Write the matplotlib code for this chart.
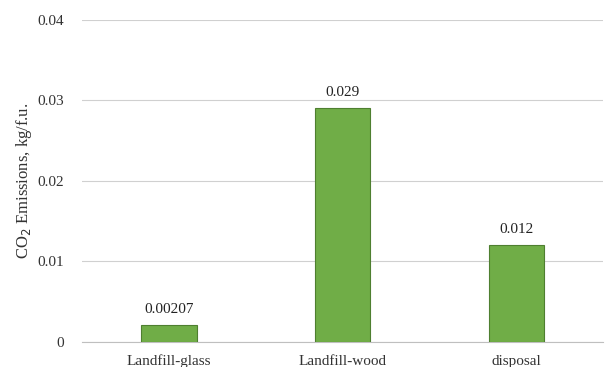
import matplotlib.pyplot as plt

plt.rcParams['font.family'] = ['Liberation Serif', 'DejaVu Serif']

# CO2 emissions per functional unit for each end-of-life route
categories = ["Landfill-glass", "Landfill-wood", "disposal"]
emissions = [0.00207, 0.029, 0.012]
value_labels = ["0.00207", "0.029", "0.012"]
y_ticks = [0, 0.01, 0.02, 0.03, 0.04]
y_tick_labels = ["0", "0.01", "0.02", "0.03", "0.04"]

fig = plt.figure(figsize=(6.08, 3.67), dpi=100)
ax = fig.add_axes([0.135, 0.068, 0.857, 0.878])

x = range(len(categories))
bars = ax.bar(x, emissions, width=0.32, color="#70AD47", edgecolor="#4E7F30", linewidth=0.8, zorder=3)

for bar, txt in zip(bars, value_labels):
    ax.text(bar.get_x() + bar.get_width() / 2, bar.get_height() + 0.0012, txt,
            ha="center", va="bottom", fontsize=11, color="#222222")

ax.set_xlim(-0.5, len(categories) - 0.5)
ax.set_ylim(0, 0.04)
ax.set_yticks(y_ticks)
ax.set_yticklabels(y_tick_labels)
ax.set_xticks(list(x))
ax.set_xticklabels(categories)
ax.tick_params(axis="both", length=0, labelsize=11, colors="#333333")
ax.tick_params(axis="y", pad=13)
ax.tick_params(axis="x", pad=9)

ax.grid(axis="y", color="#D0D0D0", linewidth=0.8, zorder=0)
for side in ["top", "right", "left"]:
    ax.spines[side].set_visible(False)
ax.spines["bottom"].set_color("#BFBFBF")

ax.set_ylabel("CO$_2$ Emissions, kg/f.u.", fontsize=12, color="#333333")
ax.yaxis.set_label_coords(-0.092, 0.5)

fig.savefig("out.png", dpi=100)
